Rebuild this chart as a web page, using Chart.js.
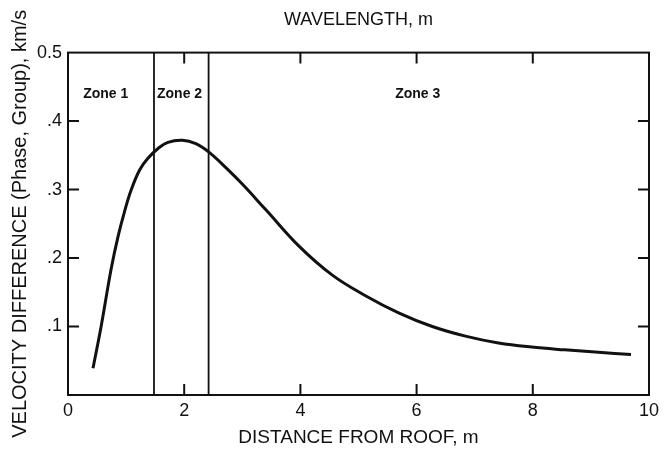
<!DOCTYPE html>
<html><head><meta charset="utf-8">
<script src="https://cdn.jsdelivr.net/npm/chart.js@4.4.0/dist/chart.umd.min.js"></script>
<style>html,body{margin:0;padding:0;background:#fff}#wrap{width:664px;height:451px}</style>
</head><body><div id="wrap"><canvas id="c" width="664" height="451"></canvas></div>
<script>
// ---- data ----
const distance =     [0.43, 0.57, 0.74, 0.86, 0.98, 1.09, 1.235, 1.38, 1.55, 1.72, 1.97, 2.20, 2.42, 2.73, 3.00, 3.41, 3.98, 4.55, 5.12, 5.69, 6.27, 6.84, 7.41, 7.98, 8.55, 9.13, 9.69];
const velocityDiff = [0.039,0.100,0.183,0.231,0.270,0.300,0.329, 0.346,0.360,0.369,0.372,0.367,0.355,0.331,0.308,0.270,0.217,0.175,0.145,0.120,0.100,0.086,0.076,0.070,0.066,0.0625,0.059];
const zoneBoundaries = [1.48, 2.42];
const zoneLabels = ['Zone 1', 'Zone 2', 'Zone 3'];
const zoneLabelX = [0.65, 1.92, 6.02];
const zoneLabelY = 0.439;
const xTickValues = [0, 2, 4, 6, 8, 10];
const xTickLabels = ['0', '2', '4', '6', '8', '10'];
const yTickValues = [0, 0.1, 0.2, 0.3, 0.4, 0.5];
const yTickLabels = ['', '.1', '.2', '.3', '.4', '0.5'];
const chartTitle = 'WAVELENGTH, m';
const xTitle = 'DISTANCE FROM ROOF, m';
const yTitle = 'VELOCITY DIFFERENCE (Phase, Group), km/s';

const INK = '#111';
const FONT = "'Liberation Sans', Arial, Helvetica, sans-serif";

const curve = distance.map((x, i) => ({x, y: velocityDiff[i]}));
const zoneDatasets = zoneBoundaries.map(b => ({
  data: [{x: b, y: 0}, {x: b, y: 0.5}],
  borderColor: INK, borderWidth: 1.8, pointRadius: 0, tension: 0
}));

const framePlugin = {
  id: 'frame',
  afterDraw(chart) {
    const {ctx, chartArea: a, scales: {x, y}} = chart;
    ctx.save();
    ctx.strokeStyle = INK;
    ctx.lineWidth = 2;
    ctx.strokeRect(a.left, a.top, a.right - a.left, a.bottom - a.top);
    const L = 11;
    ctx.beginPath();
    xTickValues.forEach(v => {
      if (v === x.min || v === x.max) return;
      const px = x.getPixelForValue(v);
      ctx.moveTo(px, a.bottom); ctx.lineTo(px, a.bottom - L);
      ctx.moveTo(px, a.top); ctx.lineTo(px, a.top + L);
    });
    yTickValues.forEach(v => {
      if (v === y.min || v === y.max) return;
      const py = y.getPixelForValue(v);
      ctx.moveTo(a.left, py); ctx.lineTo(a.left + L, py);
      ctx.moveTo(a.right, py); ctx.lineTo(a.right - L, py);
    });
    ctx.stroke();
    ctx.fillStyle = INK;
    ctx.font = "bold 14px " + FONT;
    ctx.textAlign = 'center';
    ctx.textBaseline = 'middle';
    zoneLabels.forEach((t, i) => {
      ctx.fillText(t, x.getPixelForValue(zoneLabelX[i]), y.getPixelForValue(zoneLabelY));
    });
    ctx.restore();
  }
};

new Chart(document.getElementById('c'), {
  type: 'line',
  data: {
    datasets: [
      {data: curve, borderColor: INK, borderWidth: 3, pointRadius: 0, tension: 0.4, fill: false},
      ...zoneDatasets
    ]
  },
  options: {
    responsive: false,
    animation: false,
    devicePixelRatio: 1,
    layout: {padding: {left: 0, right: 13, top: 0, bottom: 0}},
    plugins: {
      legend: {display: false},
      tooltip: {enabled: false},
      title: {
        display: true, text: chartTitle, color: INK, fullSize: false,
        font: {family: FONT, size: 18, weight: 'normal'},
        padding: {top: 9, bottom: 22}
      }
    },
    scales: {
      x: {
        type: 'linear', min: 0, max: 10,
        afterFit: s => { s.height = 56; },
        afterBuildTicks: s => { s.ticks = xTickValues.map(v => ({value: v})); },
        ticks: {
          color: INK, padding: 5, maxRotation: 0, autoSkip: false,
          font: {family: FONT, size: 18},
          callback: v => { const i = xTickValues.indexOf(v); return i >= 0 ? xTickLabels[i] : ''; }
        },
        grid: {display: false, drawTicks: false},
        border: {display: false},
        title: {display: true, text: xTitle, color: INK, font: {family: FONT, size: 19}, padding: {top: 0, bottom: 2}}
      },
      y: {
        type: 'linear', min: 0, max: 0.5,
        afterFit: s => { s.width = 68; },
        afterBuildTicks: s => { s.ticks = yTickValues.map(v => ({value: v})); },
        ticks: {
          color: INK, padding: 6, autoSkip: false,
          font: {family: FONT, size: 18},
          callback: v => { const i = yTickValues.findIndex(t => Math.abs(t - v) < 1e-9); return i >= 0 ? yTickLabels[i] : ''; }
        },
        grid: {display: false, drawTicks: false},
        border: {display: false},
        title: {display: true, text: yTitle, color: INK, font: {family: FONT, size: 20}, padding: {top: 8, bottom: 0}}
      }
    }
  },
  plugins: [framePlugin]
});
</script>
</body></html>
